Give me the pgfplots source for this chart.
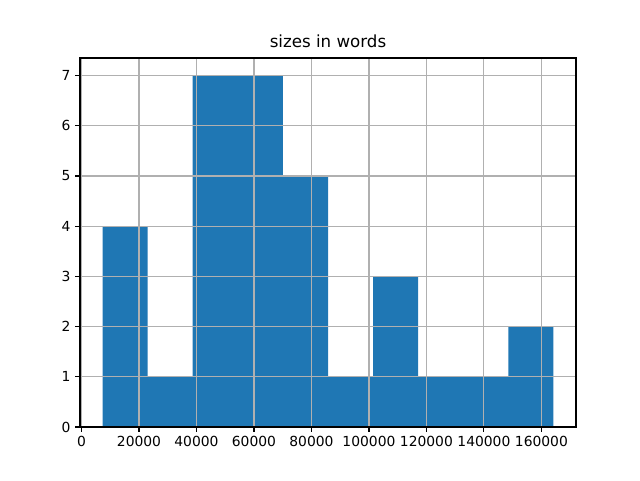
\documentclass[border=0pt]{standalone}
\usepackage{fontspec}
\setmainfont{DejaVu Sans}
\usepackage{pgfplots}
\pgfplotsset{compat=1.18}
\definecolor{mplblue}{HTML}{1F77B4}
\definecolor{mplgrid}{HTML}{B0B0B0}
\begin{document}
\begin{tikzpicture}
    \path[use as bounding box] (0,0) rectangle (480pt,360pt);
    \begin{axis}[
        at={(60pt,39.75pt)}, anchor=south west,
        scale only axis,
        width=372pt, height=276.75pt,
        xmin=-523, xmax=172033,
        ymin=0, ymax=7.35,
        xtick={0,20000,40000,60000,80000,100000,120000,140000,160000},
        ytick={0,1,2,3,4,5,6,7},
        scaled x ticks=false,
        x tick label style={/pgf/number format/.cd, fixed, set thousands separator={}},
        /pgf/number format/assume math mode=true,
        tick label style={font=\fontsize{10.4}{12}\selectfont},
        title={sizes in words},
        title style={font=\fontsize{12.5}{14}\selectfont, yshift=-2pt},
        grid=major,
        major grid style={mplgrid, line width=0.83pt},
        axis on top,
        tick align=outside,
        tick pos=left,
        major tick length=3.6pt,
        axis line style={line width=0.83pt},
        tick style={line width=0.83pt, black},
    ]
        % 10 bins between min and max
        \addplot[ybar interval, fill=mplblue, draw=none] coordinates {
            (7320,4) (23007,1) (38694,7) (54381,7) (70068,5)
            (85755,1) (101442,3) (117129,1) (132816,1) (148503,2)
            (164190,2)
        };
    \end{axis}
\end{tikzpicture}
\end{document}
